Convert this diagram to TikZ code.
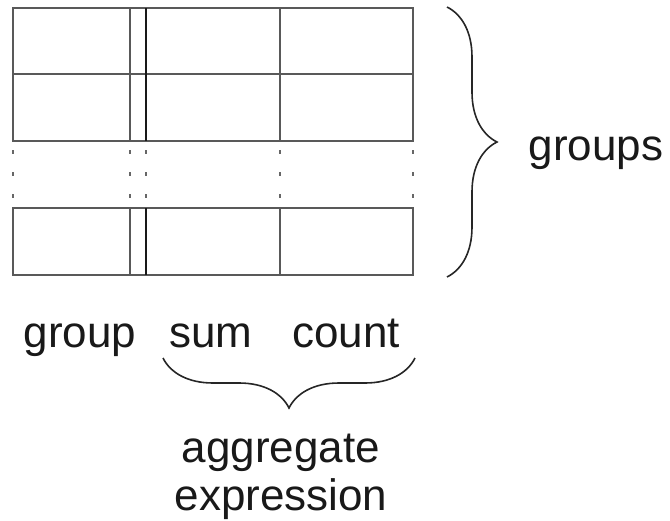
\documentclass[tikz,border=0pt]{standalone}
\usepackage{fontspec}
\setmainfont{Liberation Sans}
\usetikzlibrary{decorations.pathreplacing}
\begin{document}
\begin{tikzpicture}[x=1pt,y=-1pt,
  gridline/.style={draw=black!65,line width=2.3pt},
  keyline/.style={draw=black!90,line width=2pt},
  dotmark/.style={fill=black!60,draw=none},
  bracepath/.style={draw=black!85,line width=1.6pt,decorate,decoration={brace,amplitude=50pt,aspect=0.5}},
  lbl/.style={font=\fontsize{44}{48}\selectfont,text=black!90,inner sep=0pt,anchor=base}]
\useasboundingbox (0,0) rectangle (670,520);
% upper block
\draw[gridline] (13,8) rectangle (413,141);
\draw[gridline] (13,74) -- (413,74);
\draw[gridline] (130,8) -- (130,141);
\draw[gridline] (280,8) -- (280,141);
\draw[keyline] (146,8) -- (146,141);
% lower block
\draw[gridline] (13,208) rectangle (413,275);
\draw[gridline] (130,208) -- (130,275);
\draw[gridline] (280,208) -- (280,275);
\draw[keyline] (146,208) -- (146,275);
% ellipsis dots
\foreach \xx in {13,130,146,280,413}{
  \foreach \yy in {152,174,196}{
    \fill[dotmark] (\xx-1.4,\yy-1.8) rectangle (\xx+1.4,\yy+1.8);
  }
}
% braces
\coordinate (rbtop) at (447,7);
\coordinate (rbbot) at (447,277);
\draw[bracepath] (rbtop) -- (rbbot);
\coordinate (bbl) at (163,358);
\coordinate (bbr) at (415,358);
\draw[bracepath] (bbr) -- (bbl);
% labels
\node[lbl] (groups) at (596,160) {groups};
\node[lbl] (group) at (80,347) {group};
\node[lbl] (sum) at (211,347) {sum};
\node[lbl] (count) at (346,347) {count};
\node[lbl] (aggr) at (281,462) {aggregate};
\node[lbl] (expr) at (281,510) {expression};
\end{tikzpicture}
\end{document}
